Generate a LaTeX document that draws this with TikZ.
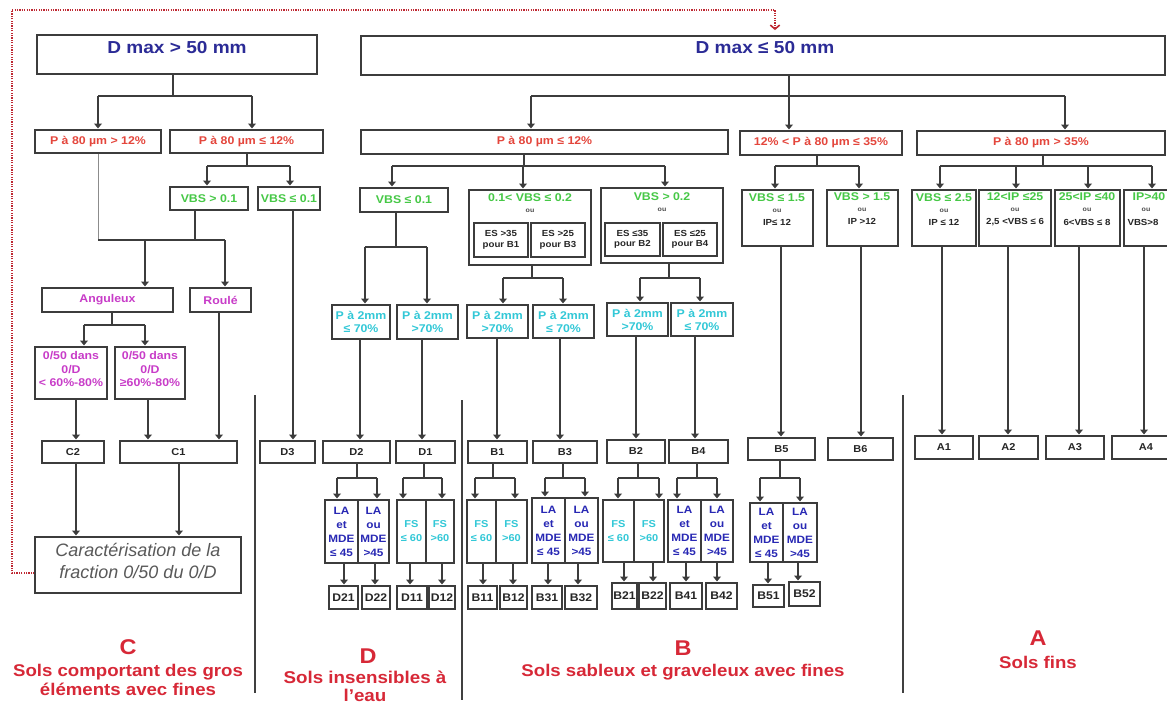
\documentclass[tikz,border=0pt]{standalone}
\usepackage{fontspec}
\setmainfont{Liberation Sans}[FakeStretch=1.1]
\newfontfamily\carfont{Liberation Sans}
\usetikzlibrary{arrows.meta}
\definecolor{hdr}{RGB}{43,43,150}
\definecolor{pred}{RGB}{228,70,60}
\definecolor{vgreen}{RGB}{70,200,70}
\definecolor{mag}{RGB}{200,60,200}
\definecolor{cyn}{RGB}{50,200,215}
\definecolor{navy}{RGB}{40,40,180}
\definecolor{lab}{RGB}{215,40,55}
\definecolor{dred}{RGB}{190,40,50}
\definecolor{lgray}{RGB}{60,60,60}
\newcommand\myfA{\fontsize{8.4}{9.8}\selectfont\bfseries}
\newcommand\myfB{\fontsize{7.5}{9}\selectfont\bfseries}
\newcommand\myfD{\fontsize{8.3}{9}\selectfont\bfseries}
\newcommand\myfC{\fontsize{4.8}{5}\selectfont\bfseries}
\newcommand\myfE{\fontsize{6.6}{8}\selectfont\bfseries}
\newcommand\myfH{\fontsize{13}{15}\selectfont\bfseries}
\newcommand\myfL{\fontsize{16}{18}\selectfont\bfseries}
\newcommand\myfS{\fontsize{12.7}{14.3}\selectfont\bfseries}
\newcommand\mybox[7][]{%
  \pgfmathsetmacro\myBW{(#5-#3)*0.75}%
  \pgfmathsetmacro\myBH{(#6-#4)*0.75}%
  \node[box,minimum width=\myBW pt,minimum height=\myBH pt,#1] (#2) at ({(#3+#5)/2},{(#4+#6)/2}) {#7};}
\newcommand\vl[4]{\coordinate (#1) at (#2,0); \draw[arr] (#1 |- #3.south) -- (#1 |- #4.north);}
\newcommand\fork[4]{%
  \coordinate (#1-j) at (#2,#3);
  \draw[ln] (#1-j |- #1.south) -- (#1-j);
  \foreach \cc/\xx in {#4}{%
    \coordinate (\cc-in) at (\xx,#3);
    \draw[ln] (#1-j) -- (\cc-in);
    \draw[arr] (\cc-in) -- (\cc-in |- \cc.north);}}
\tikzset{
  ln/.style={draw=lgray,line width=0.8pt},
  arr/.style={ln,-{Triangle[length=3.6pt,width=5.8pt]},shorten >=0.8pt},
  box/.style={draw=lgray,line width=0.8pt,fill=white,inner sep=0pt,align=center},
  hdr/.style={text=hdr,font=\myfH},
  pr/.style={text=pred,font=\myfA,align=center},
  gr/.style={text=vgreen,font=\myfA,align=center},
  mg/.style={text=mag,font=\myfA,align=center},
  cy/.style={text=cyn,font=\myfA,align=center},
  nv/.style={text=navy,font=\fontsize{8}{10.5}\selectfont\bfseries,align=center},
  fsb/.style={text=cyn,font=\fontsize{7.5}{10.5}\selectfont\bfseries,align=center},
  bk/.style={text=black!85,font=\myfB,align=center},
  bkc/.style={text=black!85,font=\myfD,align=center},
  es/.style={text=black!85,font=\myfE,align=center},
  ou/.style={text=black!70,font=\myfC},
  car/.style={text=black!65,font=\carfont\itshape\fontsize{13.5}{17}\selectfont,align=center},
  big/.style={text=lab,font=\myfL},
  sub/.style={text=lab,font=\myfS,align=center},
  div/.style={draw=black!75,line width=1.1pt},
  reddot/.style={draw=dred,line width=1.5pt,dash pattern=on 1pt off 0.8pt},
  thinl/.style={draw=black!45,line width=0.6pt}
}
\begin{document}
\begin{tikzpicture}[x={(0.75pt,0)},y={(0,-0.75pt)}]
\fill[white] (0,0) rectangle (1167,706);
\clip (0,0) rectangle (1167,706);

% ---------- left part (C, D3)
\mybox{dmA}{37}{35}{317}{74}{}
\node[hdr] (dmAt) at (177,48) {D max > 50 mm};
\mybox[pr]{pgA}{35}{130}{161}{153}{P à 80 µm > 12\%}
\mybox[pr]{plA}{170}{130}{323}{153}{P à 80 µm ≤ 12\%}
\mybox[gr]{vbA}{170}{187}{248}{210}{VBS > 0.1}
\mybox[gr]{vbB}{258}{187}{320}{210}{VBS ≤ 0.1}
\mybox[mg]{ang}{42}{288}{173}{312}{Anguleux}
\mybox[mg]{rou}{190}{288}{251}{312}{Roulé}
\mybox{cA}{35}{347}{107}{399}{}
\node[mg] (cAt) at (71,369) {0/50 dans\\0/D\\< 60\%-80\%};
\mybox{cB}{115}{347}{185}{399}{}
\node[mg] (cBt) at (150,369) {0/50 dans\\0/D\\≥60\%-80\%};
\mybox[bk]{c2}{42}{441}{104}{463}{C2}
\mybox[bk]{c1}{120}{441}{237}{463}{C1}
\mybox[bk]{d3}{260}{441}{315}{463}{D3}
\mybox{car}{35}{537}{241}{593}{}
\node[car] (cart) at (138,561) {Caractérisation de la\\fraction 0/50 du 0/D};

% ---------- right part headers
\mybox{dmB}{361}{36}{1165}{75}{}
\node[hdr] (dmBt) at (765,48) {D max ≤ 50 mm};
\mybox[pr]{pB1}{361}{130}{728}{154}{P à 80 µm ≤ 12\%}
\mybox[pr]{pB2}{740}{131}{902}{155}{12\% < P à 80 µm ≤ 35\%}
\mybox[pr]{pB3}{917}{131}{1165}{155}{P à 80 µm > 35\%}

% VBS level (D,B)
\mybox[gr]{vD}{360}{188}{448}{212}{VBS ≤ 0.1}
\mybox{vB13}{469}{190}{591}{265}{}
\node[gr] (vB13t) at (530,198) {0.1< VBS ≤ 0.2};
\node[ou] (vB13o) at (530,211) {ou};
\mybox[es]{es1}{474}{223}{528}{257}{ES >35\\pour B1}
\mybox[es]{es3}{531}{223}{585}{257}{ES >25\\pour B3}
\mybox{vB24}{601}{188}{723}{263}{}
\node[gr] (vB24t) at (662,197) {VBS > 0.2};
\node[ou] (vB24o) at (662,210) {ou};
\mybox[es]{es2}{605}{223}{660}{256}{ES ≤35\\pour B2}
\mybox[es]{es4}{663}{223}{717}{256}{ES ≤25\\pour B4}

% VBS level (B5,B6,A)
\mybox{vbl15}{742}{190}{813}{246}{}
\node[gr] (vbl15t) at (777,198) {VBS ≤ 1.5};
\node[ou] (vbl15o) at (777,211) {ou};
\node[es] (vbl15i) at (777,222) {IP≤ 12};
\mybox{vbg15}{827}{190}{898}{246}{}
\node[gr] (vbg15t) at (862,197) {VBS > 1.5};
\node[ou] (vbg15o) at (862,210) {ou};
\node[es] (vbg15i) at (862,221) {IP >12};
\mybox{ip1}{912}{190}{976}{246}{}
\node[gr] (ip1t) at (944,198) {VBS ≤ 2.5};
\node[ou] (ip1o) at (944,211) {ou};
\node[es] (ip1i) at (944,222) {IP ≤ 12};
\mybox{ip2}{979}{190}{1051}{246}{}
\node[gr] (ip2t) at (1015,197) {12<IP ≤25};
\node[ou] (ip2o) at (1015,210) {ou};
\node[es] (ip2i) at (1015,222) {2,5 <VBS ≤ 6};
\mybox{ip3}{1055}{190}{1120}{246}{}
\node[gr] (ip3t) at (1087,197) {25<IP ≤40};
\node[ou] (ip3o) at (1087,210) {ou};
\node[es] (ip3i) at (1087,222) {6<VBS ≤ 8};
\mybox{ip4}{1124}{190}{1180}{246}{}
\node[gr] (ip4t) at (1149,197) {IP>40};
\node[ou] (ip4o) at (1146,210) {ou};
\node[es] (ip4i) at (1143,222) {VBS>8};

% P a 2mm
\mybox[cy]{pa1}{332}{305}{390}{339}{P à 2mm\\≤ 70\%}
\mybox[cy]{pa2}{397}{305}{458}{339}{P à 2mm\\>70\%}
\mybox[cy]{pa3}{467}{305}{528}{338}{P à 2mm\\>70\%}
\mybox[cy]{pa4}{533}{305}{594}{338}{P à 2mm\\≤ 70\%}
\mybox[cy]{pa5}{607}{303}{668}{336}{P à 2mm\\>70\%}
\mybox[cy]{pa6}{671}{303}{733}{336}{P à 2mm\\≤ 70\%}

% classes
\mybox[bk]{d2}{323}{441}{390}{463}{D2}
\mybox[bk]{d1}{396}{441}{455}{463}{D1}
\mybox[bk]{b1}{468}{441}{527}{463}{B1}
\mybox[bk]{b3}{533}{441}{597}{463}{B3}
\mybox[bk]{b2}{607}{440}{665}{463}{B2}
\mybox[bk]{b4}{669}{440}{728}{463}{B4}
\mybox[bk]{b5}{748}{438}{815}{460}{B5}
\mybox[bk]{b6}{828}{438}{893}{460}{B6}
\mybox[bk]{a1}{915}{436}{973}{459}{A1}
\mybox[bk]{a2}{979}{436}{1038}{459}{A2}
\mybox[bk]{a3}{1046}{436}{1104}{459}{A3}
\mybox[bk]{a4}{1112}{436}{1180}{459}{A4}

% sub-criteria
\mybox[nv]{laD2a}{325}{500}{358}{563}{LA\\et\\MDE\\≤ 45}
\mybox[nv]{laD2b}{358}{500}{389}{563}{LA\\ou\\MDE\\>45}
\mybox[fsb]{fsD1a}{397}{500}{426}{563}{FS\\≤ 60}
\mybox[fsb]{fsD1b}{426}{500}{454}{563}{FS\\>60}
\mybox[fsb]{fsB1a}{467}{500}{496}{563}{FS\\≤ 60}
\mybox[fsb]{fsB1b}{496}{500}{527}{563}{FS\\>60}
\mybox[nv]{laB3a}{532}{498}{565}{563}{LA\\et\\MDE\\≤ 45}
\mybox[nv]{laB3b}{565}{498}{598}{563}{LA\\ou\\MDE\\>45}
\mybox[fsb]{fsB2a}{603}{500}{634}{562}{FS\\≤ 60}
\mybox[fsb]{fsB2b}{634}{500}{664}{562}{FS\\>60}
\mybox[nv]{laB4a}{668}{500}{701}{562}{LA\\et\\MDE\\≤ 45}
\mybox[nv]{laB4b}{701}{500}{733}{562}{LA\\ou\\MDE\\>45}
\mybox[nv]{laB5a}{750}{503}{783}{562}{LA\\et\\MDE\\≤ 45}
\mybox[nv]{laB5b}{783}{503}{817}{562}{LA\\ou\\MDE\\>45}

% final codes
\mybox[bkc]{d21}{329}{586}{358}{609}{D21}
\mybox[bkc]{d22}{362}{586}{390}{609}{D22}
\mybox[bkc]{d11}{397}{586}{427}{609}{D11}
\mybox[bkc]{d12}{429}{586}{455}{609}{D12}
\mybox[bkc]{b11}{468}{586}{497}{609}{B11}
\mybox[bkc]{b12}{500}{586}{527}{609}{B12}
\mybox[bkc]{b31}{532}{586}{562}{609}{B31}
\mybox[bkc]{b32}{565}{586}{597}{609}{B32}
\mybox[bkc]{b21}{612}{583}{637}{609}{B21}
\mybox[bkc]{b22}{639}{583}{666}{609}{B22}
\mybox[bkc]{b41}{670}{583}{702}{609}{B41}
\mybox[bkc]{b42}{706}{583}{737}{609}{B42}
\mybox[bkc]{b51}{753}{585}{784}{607}{B51}
\mybox[bkc]{b52}{789}{582}{820}{606}{B52}

% ---------- forks
\fork{dmA}{173}{96}{pgA/98,plA/252}
\fork{plA}{247}{166}{vbA/207,vbB/290}
\fork{ang}{112}{325}{cA/84,cB/145}
\fork{dmB}{789}{96}{pB1/531,pB2/789,pB3/1065}
\fork{pB1}{524}{166}{vD/392,vB13/523,vB24/665}
\fork{pB2}{817}{166}{vbl15/775,vbg15/859}
\fork{pB3}{1043}{166}{ip1/940,ip2/1016,ip3/1088,ip4/1152}
\fork{vD}{396}{247}{pa1/365,pa2/427}
\fork{vB13}{532}{278}{pa3/503,pa4/563}
\fork{vB24}{669}{278}{pa5/640,pa6/700}
\fork{d2}{357}{478}{laD2a/337,laD2b/377}
\fork{d1}{424}{478}{fsD1a/403,fsD1b/442}
\fork{b1}{493}{478}{fsB1a/475,fsB1b/515}
\fork{b3}{563}{478}{laB3a/545,laB3b/585}
\fork{b2}{638}{478}{fsB2a/618,fsB2b/659}
\fork{b4}{697}{478}{laB4a/677,laB4b/717}
\fork{b5}{780}{478}{laB5a/760,laB5b/800}

% merge towards Anguleux / Roule
\coordinate (m0) at (98,240);
\coordinate (m2) at (195,240);
\coordinate (m3) at (145,240);
\coordinate (m4) at (225,240);
\draw[thinl] (pgA.south) -- (m0);
\draw[ln] (m2 |- vbA.south) -- (m2);
\draw[ln] (m0) -- (m4);
\draw[arr] (m3) -- (m3 |- ang.north);
\draw[arr] (m4) -- (m4 |- rou.north);

% ---------- straight links
\vl{k1}{76}{cA}{c2}
\vl{k2}{148}{cB}{c1}
\vl{k3}{219}{rou}{c1}
\vl{k4}{293}{vbB}{d3}
\vl{k5}{76}{c2}{car}
\vl{k6}{179}{c1}{car}
\vl{k7}{360}{pa1}{d2}
\vl{k8}{422}{pa2}{d1}
\vl{k9}{497}{pa3}{b1}
\vl{k10}{560}{pa4}{b3}
\vl{k11}{636}{pa5}{b2}
\vl{k12}{695}{pa6}{b4}
\vl{k13}{781}{vbl15}{b5}
\vl{k14}{861}{vbg15}{b6}
\vl{k15}{942}{ip1}{a1}
\vl{k16}{1008}{ip2}{a2}
\vl{k17}{1079}{ip3}{a3}
\vl{k18}{1144}{ip4}{a4}
\vl{k19}{344}{laD2a}{d21}
\vl{k20}{375}{laD2b}{d22}
\vl{k21}{410}{fsD1a}{d11}
\vl{k22}{442}{fsD1b}{d12}
\vl{k23}{483}{fsB1a}{b11}
\vl{k24}{513}{fsB1b}{b12}
\vl{k25}{548}{laB3a}{b31}
\vl{k26}{578}{laB3b}{b32}
\vl{k27}{624}{fsB2a}{b21}
\vl{k28}{653}{fsB2b}{b22}
\vl{k29}{686}{laB4a}{b41}
\vl{k30}{717}{laB4b}{b42}
\vl{k31}{768}{laB5a}{b51}
\vl{k32}{798}{laB5b}{b52}

% ---------- red dotted loop
\coordinate (r1) at (12,573);
\coordinate (r2) at (12,10);
\coordinate (r3) at (775,10);
\draw[reddot,-{Straight Barb[length=3pt,width=7pt,line width=1.2pt]},shorten >=4pt]
  (car.west |- r1) -- (r1) -- (r2) -- (r3) -- (r3 |- dmB.north);

% ---------- dividers
\coordinate (v1a) at (255,395); \coordinate (v1b) at (255,693);
\coordinate (v2a) at (462,400); \coordinate (v2b) at (462,700);
\coordinate (v3a) at (903,395); \coordinate (v3b) at (903,693);
\draw[div] (v1a) -- (v1b);
\draw[div] (v2a) -- (v2b);
\draw[div] (v3a) -- (v3b);

% ---------- group labels
\node[big] (gC) at (128,647) {C};
\node[sub] (gCs) at (128,680) {Sols comportant des gros\\éléments avec fines};
\node[big] (gD) at (368,656) {D};
\node[sub,font=\fontsize{12.8}{13.6}\selectfont\bfseries] (gDs) at (365,686) {Sols insensibles à\\l'eau};
\node[big] (gB) at (683,648) {B};
\node[sub] (gBs) at (683,672) {Sols sableux et graveleux avec fines};
\node[big] (gA) at (1038,638) {A};
\node[sub] (gAs) at (1038,662) {Sols fins};
\end{tikzpicture}
\end{document}
